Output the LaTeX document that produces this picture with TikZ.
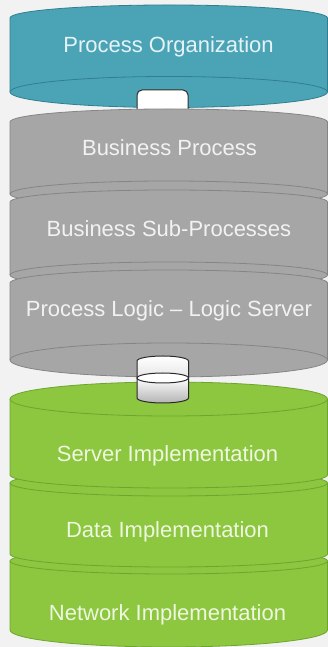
\documentclass[tikz,border=0pt]{standalone}
\usepackage{fontspec}
\setmainfont{Liberation Sans}
\definecolor{bg}{HTML}{F2F2F2}
\definecolor{tealfill}{HTML}{4BA4B6}
\definecolor{tealline}{HTML}{2F7F8F}
\definecolor{grayfill}{HTML}{A6A6A6}
\definecolor{grayline}{HTML}{858585}
\definecolor{greenfill}{HTML}{8DC63F}
\definecolor{greenline}{HTML}{6EA52E}
\definecolor{tealtext}{HTML}{E6F3F6}
\definecolor{graytext}{HTML}{F2F2F2}
\definecolor{greentext}{HTML}{EEF7E0}
\definecolor{plugline}{HTML}{2A2A2A}

% Disk seen from below: its bottom face is visible.
% #1 fill, #2 line, #3 top row, #4 bottom row, #5 top y radius, #6 bottom y radius
\newcommand\diskbelow[6]{%
  \filldraw[fill=#1,draw=#2,line width=0.8pt]
    (10,{647-#3}) arc[start angle=180,end angle=0,x radius=158.75pt,y radius=#5pt]
    -- (327.5,{647-#4}) arc[start angle=0,end angle=-180,x radius=158.75pt,y radius=#6pt] -- cycle;
  \draw[#2,line width=0.8pt] (10,{647-#4})
    arc[start angle=180,end angle=0,x radius=158.75pt,y radius=#6pt];
}
% Disk seen from above: its top face is visible.
\newcommand\diskabove[6]{%
  \filldraw[fill=#1,draw=#2,line width=0.8pt]
    (10,{647-#3}) arc[start angle=180,end angle=0,x radius=158.75pt,y radius=#5pt]
    -- (327.5,{647-#4}) arc[start angle=0,end angle=-180,x radius=158.75pt,y radius=#6pt] -- cycle;
  \draw[#2,line width=0.8pt] (10,{647-#3})
    arc[start angle=180,end angle=360,x radius=158.75pt,y radius=#5pt];
}

\tikzset{
  label/.style={anchor=base,inner sep=0pt,font=\fontsize{22}{26}\selectfont},
  plug/.style={draw=plugline,line width=1pt}
}

\begin{document}
\begin{tikzpicture}[x=1pt,y=1pt]
\useasboundingbox (0,0) rectangle (328,647);
\fill[bg] (0,0) rectangle (328,647);

% top layer
\diskbelow{tealfill}{tealline}{18}{92}{13}{15.5}
\node[label,text=tealtext] (po) at (168.5,{647-53}) {Process Organization};

% link between the top and middle stacks
\filldraw[fill=white,plug,rounded corners=5pt]
  (137,{647-114}) -- (137,{647-90}) -- (188,{647-90}) -- (188,{647-114});

% middle stack
\diskbelow{grayfill}{grayline}{122}{194}{13}{13}
\diskbelow{grayfill}{grayline}{202}{275}{12}{13}
\diskbelow{grayfill}{grayline}{283}{360}{13}{17}
\node[label,text=graytext] (bp) at (169.5,{647-156}) {Business Process};
\node[label,text=graytext] (bsp) at (169,{647-237}) {Business Sub-Processes};
\node[label,text=graytext] (pl) at (169,{647-317}) {Process Logic -- Logic Server};

% bottom stack
\diskabove{greenfill}{greenline}{561}{630}{13}{17}
\diskabove{greenfill}{greenline}{483}{554}{13}{13}
\diskabove{greenfill}{greenline}{399}{475}{17}{13}
\node[label,text=greentext] (si) at (167.5,{647-462}) {Server Implementation};
\node[label,text=greentext] (di) at (167.5,{647-538}) {Data Implementation};
\node[label,text=greentext] (ni) at (167.5,{647-620}) {Network Implementation};

% small cylinder joining the middle and bottom stacks
\shade[top color=white,bottom color=black!10]
  (137,{647-361}) arc[start angle=180,end angle=0,x radius=25.75pt,y radius=5pt]
  -- (188.5,{647-378}) -- (137,{647-378}) -- cycle;
\shade[top color=white,bottom color=black!30]
  (137,{647-378}) -- (137,{647-398})
  arc[start angle=180,end angle=360,x radius=25.75pt,y radius=5pt]
  -- (188.5,{647-378}) -- cycle;
\filldraw[fill=white,plug] (162.75,{647-378}) ellipse[x radius=25.75pt,y radius=5pt];
\draw[plug]
  (137,{647-398}) -- (137,{647-361})
  arc[start angle=180,end angle=0,x radius=25.75pt,y radius=5pt]
  -- (188.5,{647-398})
  arc[start angle=0,end angle=-180,x radius=25.75pt,y radius=5pt];
\end{tikzpicture}
\end{document}
